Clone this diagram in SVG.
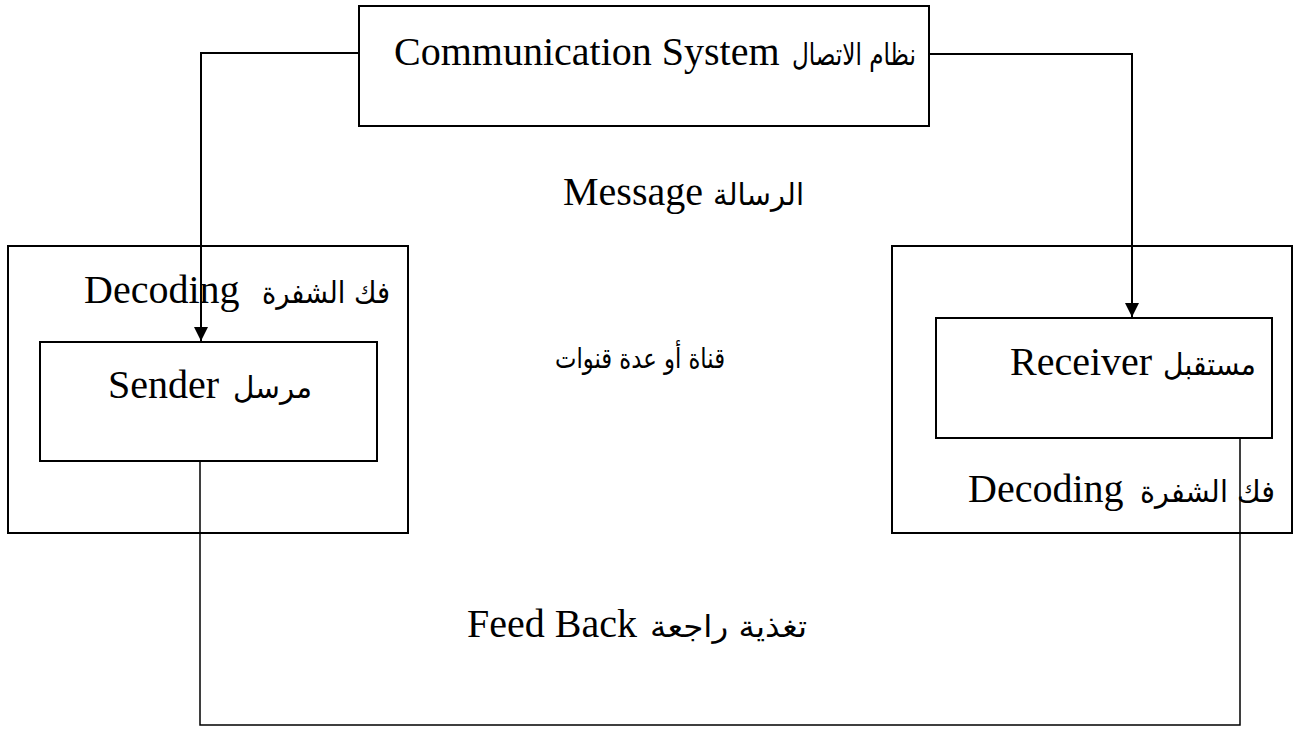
<svg xmlns="http://www.w3.org/2000/svg" width="1294" height="729" viewBox="0 0 1294 729">
<style>
.box{fill:none;stroke:#000;stroke-width:2}
.ln{fill:none;stroke:#000;stroke-width:2}
.fb{fill:none;stroke:#000;stroke-width:1.5}
.en{font-family:"Liberation Serif","Times New Roman",serif;font-size:40px;fill:#000}
.ar{font-family:"DejaVu Sans","Liberation Serif",sans-serif;font-size:30px;fill:#000;text-anchor:end}
.ars{font-family:"DejaVu Sans","Liberation Sans",sans-serif;font-size:28px;fill:#000;text-anchor:end}
</style>
<defs>
<marker id="ah" viewBox="0 0 14 14" refX="14" refY="7" markerWidth="14" markerHeight="14" markerUnits="userSpaceOnUse" orient="auto">
<path d="M0,0 L14,7 L0,14 Z" fill="#000"/>
</marker>
</defs>
<rect width="1294" height="729" fill="#fff"/>
<g id="connectors">
<path class="ln" d="M359,53 H201 V341" marker-end="url(#ah)"/>
<path class="ln" d="M929,54 H1132 V317" marker-end="url(#ah)"/>
<path class="fb" d="M200,461 V725 H1240 V438"/>
</g>
<g id="system">
<rect class="box" x="359" y="6" width="570" height="120"/>
<text class="en" x="394" y="65">Communication System</text>
<text class="ar" x="916" y="65" textLength="124" lengthAdjust="spacingAndGlyphs">نظام الاتصال</text>
</g>
<g id="message">
<text class="en" x="563" y="205">Message</text>
<text class="ar" x="804" y="205" textLength="91" lengthAdjust="spacingAndGlyphs">الرسالة</text>
</g>
<g id="sender-decoding">
<rect class="box" x="8" y="246" width="400" height="287"/>
<text class="en" x="84" y="303">Decoding</text>
<text class="ar" x="390" y="303" textLength="128" lengthAdjust="spacingAndGlyphs">فك الشفرة</text>
</g>
<g id="sender">
<rect class="box" x="40" y="342" width="337" height="119"/>
<text class="en" x="108" y="398">Sender</text>
<text class="ar" x="312" y="398" textLength="79" lengthAdjust="spacingAndGlyphs">مرسل</text>
</g>
<g id="channel">
<text class="ars" x="725" y="368" textLength="170" lengthAdjust="spacingAndGlyphs">قناة أو عدة قنوات</text>
</g>
<g id="receiver-decoding">
<rect class="box" x="892" y="246" width="400" height="287"/>
<text class="en" x="968" y="502">Decoding</text>
<text class="ar" x="1275" y="502" textLength="135" lengthAdjust="spacingAndGlyphs">فك الشفرة</text>
</g>
<g id="receiver">
<rect class="box" x="936" y="318" width="336" height="120"/>
<text class="en" x="1010" y="375">Receiver</text>
<text class="ar" x="1256" y="375" textLength="93" lengthAdjust="spacingAndGlyphs">مستقبل</text>
</g>
<g id="feedback">
<text class="en" x="467" y="637">Feed Back</text>
<text class="ar" x="807" y="637" textLength="157" lengthAdjust="spacingAndGlyphs">تغذية راجعة</text>
</g>
</svg>
